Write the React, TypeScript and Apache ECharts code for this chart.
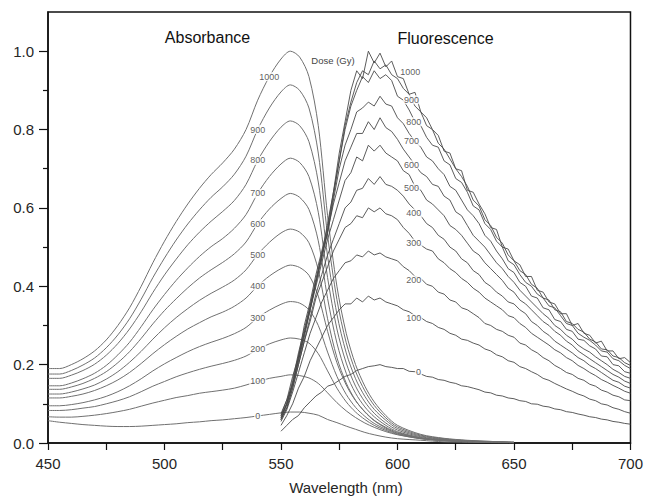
import React, { useEffect, useRef } from "react";
import * as echarts from "echarts";

const FONT = '"Liberation Sans", Arial, sans-serif';

const doses = [0, 100, 200, 300, 400, 500, 600, 700, 800, 900, 1000];

// ---- Absorbance (nm) ----
const absWl = [450, 455, 460, 465, 470, 475, 480, 485, 490, 495, 500, 505, 510, 515, 520, 525, 530, 535, 540, 545, 550, 554, 558, 562, 566, 570, 574, 578, 582, 586, 590, 595, 600, 610, 620, 630, 640, 650];
const abs0 = [0.057, 0.053, 0.05, 0.047, 0.045, 0.043, 0.042, 0.042, 0.043, 0.045, 0.047, 0.049, 0.052, 0.054, 0.057, 0.059, 0.062, 0.065, 0.069, 0.073, 0.077, 0.079, 0.079, 0.076, 0.071, 0.06, 0.052, 0.043, 0.035, 0.027, 0.021, 0.015, 0.011, 0.007, 0.003, 0.002, 0.001, 0];
const abs100 = [0.067, 0.066, 0.066, 0.068, 0.071, 0.075, 0.08, 0.086, 0.094, 0.102, 0.109, 0.116, 0.121, 0.127, 0.131, 0.135, 0.14, 0.148, 0.157, 0.165, 0.17, 0.174, 0.172, 0.166, 0.152, 0.128, 0.103, 0.082, 0.065, 0.051, 0.04, 0.029, 0.021, 0.011, 0.006, 0.003, 0.002, 0.001];
const abs200 = [0.083, 0.083, 0.085, 0.089, 0.093, 0.1, 0.108, 0.118, 0.131, 0.145, 0.157, 0.169, 0.179, 0.188, 0.196, 0.203, 0.211, 0.222, 0.239, 0.253, 0.263, 0.268, 0.265, 0.255, 0.228, 0.184, 0.14, 0.105, 0.079, 0.06, 0.045, 0.032, 0.022, 0.011, 0.006, 0.003, 0.002, 0.001];
const abs300 = [0.095, 0.095, 0.098, 0.103, 0.11, 0.119, 0.131, 0.146, 0.164, 0.184, 0.202, 0.218, 0.233, 0.246, 0.257, 0.267, 0.279, 0.295, 0.32, 0.339, 0.354, 0.361, 0.357, 0.34, 0.3, 0.232, 0.17, 0.124, 0.091, 0.068, 0.05, 0.035, 0.024, 0.012, 0.006, 0.004, 0.002, 0.001];
const abs400 = [0.115, 0.115, 0.119, 0.125, 0.134, 0.146, 0.161, 0.18, 0.203, 0.228, 0.251, 0.272, 0.291, 0.307, 0.322, 0.334, 0.349, 0.37, 0.401, 0.426, 0.445, 0.454, 0.448, 0.428, 0.375, 0.285, 0.205, 0.148, 0.108, 0.08, 0.058, 0.04, 0.027, 0.013, 0.007, 0.004, 0.002, 0.001];
const abs500 = [0.125, 0.125, 0.13, 0.138, 0.148, 0.163, 0.182, 0.206, 0.234, 0.265, 0.294, 0.32, 0.343, 0.364, 0.382, 0.398, 0.416, 0.442, 0.481, 0.512, 0.536, 0.546, 0.538, 0.511, 0.442, 0.317, 0.218, 0.153, 0.109, 0.079, 0.057, 0.038, 0.025, 0.012, 0.007, 0.004, 0.002, 0.001];
const abs600 = [0.137, 0.137, 0.143, 0.152, 0.165, 0.182, 0.205, 0.233, 0.267, 0.304, 0.338, 0.368, 0.396, 0.421, 0.442, 0.461, 0.483, 0.513, 0.56, 0.597, 0.624, 0.637, 0.627, 0.596, 0.516, 0.369, 0.255, 0.178, 0.127, 0.092, 0.067, 0.045, 0.029, 0.014, 0.008, 0.004, 0.003, 0.001];
const abs700 = [0.146, 0.146, 0.153, 0.164, 0.178, 0.198, 0.225, 0.257, 0.297, 0.34, 0.379, 0.415, 0.447, 0.476, 0.501, 0.522, 0.548, 0.583, 0.637, 0.68, 0.712, 0.727, 0.716, 0.68, 0.589, 0.422, 0.291, 0.204, 0.145, 0.105, 0.076, 0.051, 0.033, 0.016, 0.009, 0.005, 0.003, 0.001];
const abs800 = [0.165, 0.165, 0.173, 0.185, 0.201, 0.224, 0.254, 0.291, 0.335, 0.384, 0.429, 0.469, 0.506, 0.538, 0.566, 0.591, 0.619, 0.66, 0.721, 0.769, 0.806, 0.822, 0.81, 0.769, 0.666, 0.477, 0.329, 0.23, 0.164, 0.119, 0.086, 0.058, 0.037, 0.018, 0.01, 0.006, 0.003, 0.002];
const abs900 = [0.176, 0.176, 0.185, 0.199, 0.217, 0.243, 0.276, 0.317, 0.367, 0.422, 0.472, 0.518, 0.559, 0.595, 0.627, 0.654, 0.686, 0.732, 0.8, 0.855, 0.896, 0.914, 0.9, 0.855, 0.74, 0.53, 0.366, 0.256, 0.183, 0.133, 0.096, 0.064, 0.041, 0.02, 0.011, 0.006, 0.004, 0.002];
const abs1000 = [0.19, 0.19, 0.2, 0.215, 0.235, 0.263, 0.3, 0.345, 0.4, 0.46, 0.515, 0.565, 0.61, 0.65, 0.685, 0.715, 0.75, 0.8, 0.875, 0.935, 0.98, 1.0, 0.985, 0.935, 0.81, 0.58, 0.4, 0.28, 0.2, 0.145, 0.105, 0.07, 0.045, 0.022, 0.012, 0.007, 0.004, 0.002];
const absData = [abs0, abs100, abs200, abs300, abs400, abs500, abs600, abs700, abs800, abs900, abs1000];
const absLabelWl = [540, 540, 540, 540, 540, 540, 540, 540, 540, 540, 545];

// ---- Fluorescence (nm), sampled every 2.5 nm from 550 to 700 ----
const fluoWl = Array.from({ length: 61 }, (_, i) => 550 + 2.5 * i);
const fluo0 = [0.03, 0.045, 0.06, 0.07, 0.09, 0.105, 0.12, 0.13, 0.145, 0.15, 0.16, 0.17, 0.175, 0.185, 0.19, 0.195, 0.197, 0.2, 0.195, 0.193, 0.19, 0.19, 0.183, 0.182, 0.176, 0.17, 0.168, 0.162, 0.16, 0.155, 0.152, 0.146, 0.144, 0.14, 0.136, 0.13, 0.128, 0.122, 0.12, 0.115, 0.113, 0.108, 0.106, 0.1, 0.099, 0.094, 0.092, 0.087, 0.085, 0.08, 0.078, 0.074, 0.071, 0.067, 0.065, 0.061, 0.059, 0.055, 0.053, 0.05, 0.048];
const fluo100 = [0.045, 0.07, 0.1, 0.14, 0.17, 0.21, 0.24, 0.27, 0.3, 0.32, 0.34, 0.355, 0.355, 0.37, 0.36, 0.375, 0.365, 0.37, 0.36, 0.355, 0.35, 0.34, 0.335, 0.325, 0.32, 0.31, 0.305, 0.295, 0.29, 0.28, 0.275, 0.265, 0.262, 0.255, 0.25, 0.24, 0.235, 0.225, 0.22, 0.21, 0.206, 0.195, 0.19, 0.182, 0.175, 0.165, 0.16, 0.152, 0.145, 0.138, 0.132, 0.125, 0.12, 0.112, 0.108, 0.1, 0.097, 0.09, 0.086, 0.08, 0.076];
const fluo200 = [0.055, 0.085, 0.13, 0.18, 0.23, 0.28, 0.32, 0.36, 0.39, 0.42, 0.44, 0.46, 0.465, 0.48, 0.475, 0.49, 0.48, 0.485, 0.475, 0.47, 0.465, 0.45, 0.44, 0.425, 0.42, 0.405, 0.4, 0.385, 0.38, 0.365, 0.36, 0.345, 0.34, 0.33, 0.32, 0.305, 0.3, 0.29, 0.285, 0.275, 0.27, 0.255, 0.25, 0.238, 0.23, 0.218, 0.21, 0.198, 0.19, 0.18, 0.175, 0.165, 0.16, 0.15, 0.145, 0.135, 0.13, 0.122, 0.118, 0.11, 0.108];
const fluo300 = [0.06, 0.09, 0.14, 0.2, 0.26, 0.31, 0.37, 0.41, 0.45, 0.49, 0.52, 0.55, 0.56, 0.58, 0.575, 0.6, 0.59, 0.6, 0.585, 0.58, 0.57, 0.55, 0.535, 0.515, 0.505, 0.495, 0.49, 0.47, 0.46, 0.445, 0.435, 0.42, 0.41, 0.395, 0.385, 0.37, 0.36, 0.35, 0.34, 0.325, 0.32, 0.305, 0.295, 0.28, 0.27, 0.26, 0.25, 0.238, 0.23, 0.218, 0.21, 0.198, 0.19, 0.18, 0.172, 0.162, 0.155, 0.147, 0.14, 0.132, 0.127];
const fluo400 = [0.06, 0.09, 0.14, 0.2, 0.26, 0.32, 0.38, 0.43, 0.48, 0.52, 0.56, 0.6, 0.615, 0.645, 0.65, 0.675, 0.66, 0.68, 0.66, 0.655, 0.645, 0.63, 0.61, 0.595, 0.58, 0.56, 0.55, 0.53, 0.52, 0.5, 0.49, 0.47, 0.46, 0.44, 0.43, 0.41, 0.4, 0.385, 0.375, 0.36, 0.355, 0.34, 0.33, 0.31, 0.3, 0.285, 0.275, 0.26, 0.25, 0.24, 0.23, 0.218, 0.21, 0.198, 0.19, 0.18, 0.17, 0.16, 0.155, 0.145, 0.14];
const fluo500 = [0.065, 0.1, 0.15, 0.21, 0.27, 0.34, 0.4, 0.46, 0.52, 0.57, 0.62, 0.67, 0.69, 0.73, 0.72, 0.76, 0.745, 0.76, 0.74, 0.73, 0.72, 0.695, 0.685, 0.655, 0.645, 0.62, 0.61, 0.595, 0.58, 0.555, 0.545, 0.53, 0.51, 0.49, 0.48, 0.46, 0.445, 0.43, 0.415, 0.395, 0.385, 0.365, 0.355, 0.34, 0.325, 0.31, 0.3, 0.285, 0.275, 0.26, 0.25, 0.235, 0.225, 0.215, 0.205, 0.195, 0.185, 0.175, 0.168, 0.158, 0.152];
const fluo600 = [0.065, 0.1, 0.15, 0.22, 0.28, 0.34, 0.41, 0.48, 0.54, 0.61, 0.665, 0.72, 0.755, 0.79, 0.79, 0.82, 0.8, 0.83, 0.805, 0.795, 0.775, 0.75, 0.73, 0.71, 0.69, 0.68, 0.66, 0.655, 0.63, 0.62, 0.59, 0.58, 0.555, 0.53, 0.515, 0.5, 0.48, 0.46, 0.445, 0.425, 0.41, 0.39, 0.375, 0.36, 0.345, 0.33, 0.318, 0.3, 0.29, 0.275, 0.265, 0.25, 0.24, 0.232, 0.22, 0.21, 0.2, 0.188, 0.18, 0.17, 0.165];
const fluo700 = [0.07, 0.1, 0.15, 0.21, 0.28, 0.35, 0.41, 0.48, 0.535, 0.62, 0.7, 0.76, 0.8, 0.845, 0.855, 0.87, 0.86, 0.885, 0.865, 0.86, 0.83, 0.815, 0.79, 0.77, 0.755, 0.73, 0.72, 0.7, 0.685, 0.655, 0.645, 0.62, 0.595, 0.58, 0.56, 0.53, 0.515, 0.49, 0.47, 0.445, 0.435, 0.41, 0.4, 0.375, 0.37, 0.345, 0.34, 0.315, 0.31, 0.29, 0.285, 0.265, 0.262, 0.248, 0.24, 0.222, 0.22, 0.2, 0.197, 0.182, 0.178];
const fluo800 = [0.075, 0.11, 0.15, 0.22, 0.28, 0.34, 0.41, 0.47, 0.54, 0.63, 0.72, 0.8, 0.86, 0.9, 0.935, 0.92, 0.95, 0.93, 0.94, 0.925, 0.885, 0.875, 0.85, 0.82, 0.81, 0.78, 0.76, 0.755, 0.72, 0.71, 0.675, 0.665, 0.64, 0.605, 0.595, 0.56, 0.545, 0.515, 0.5, 0.465, 0.455, 0.43, 0.41, 0.4, 0.38, 0.37, 0.35, 0.345, 0.325, 0.305, 0.3, 0.28, 0.27, 0.262, 0.25, 0.235, 0.232, 0.215, 0.21, 0.198, 0.19];
const fluo900 = [0.07, 0.11, 0.17, 0.22, 0.3, 0.36, 0.43, 0.49, 0.55, 0.64, 0.72, 0.81, 0.87, 0.92, 0.95, 0.94, 0.975, 0.955, 0.965, 0.94, 0.93, 0.905, 0.89, 0.86, 0.845, 0.81, 0.8, 0.765, 0.75, 0.725, 0.7, 0.68, 0.655, 0.62, 0.605, 0.57, 0.555, 0.525, 0.51, 0.48, 0.465, 0.44, 0.43, 0.405, 0.395, 0.37, 0.365, 0.34, 0.335, 0.31, 0.305, 0.29, 0.283, 0.265, 0.258, 0.24, 0.238, 0.222, 0.218, 0.205, 0.198];
const fluo1000 = [0.06, 0.1, 0.16, 0.23, 0.29, 0.35, 0.42, 0.48, 0.56, 0.64, 0.74, 0.82, 0.9, 0.95, 0.93, 1.0, 0.97, 0.995, 0.96, 0.975, 0.935, 0.93, 0.89, 0.895, 0.845, 0.83, 0.8, 0.785, 0.745, 0.74, 0.7, 0.695, 0.645, 0.64, 0.61, 0.585, 0.55, 0.545, 0.5, 0.495, 0.465, 0.455, 0.425, 0.425, 0.39, 0.385, 0.36, 0.355, 0.33, 0.33, 0.3, 0.305, 0.28, 0.275, 0.255, 0.26, 0.235, 0.235, 0.215, 0.218, 0.205];
const fluoData = [fluo0, fluo100, fluo200, fluo300, fluo400, fluo500, fluo600, fluo700, fluo800, fluo900, fluo1000];
const fluoLabelWl = [609, 607, 607, 607, 607, 606, 606, 606, 607, 606, 605.5];
const fluoLabelY = [0.182, 0.318, 0.416, 0.51, 0.587, 0.651, 0.71, 0.77, 0.82, 0.876, 0.948];

// ---- Axis ticks ----
const xTicks = [450, 475, 500, 525, 550, 575, 600, 625, 650, 675, 700];
const xLabels = [450, 500, 550, 600, 650, 700];
const yLabels = [0, 0.2, 0.4, 0.6, 0.8, 1.0];
const yMinor = [0.1, 0.3, 0.5, 0.7, 0.9];

export default function App() {
  const ref = useRef<HTMLDivElement>(null);

  useEffect(() => {
    if (!ref.current) return;
    const chart = echarts.init(ref.current, null, { renderer: "svg" });

    const lineBase = { type: "line", symbol: "none", showSymbol: false, silent: true };
    const absSeries = absData.map((arr, i) => ({
      ...lineBase,
      name: `A${doses[i]}`,
      smooth: 0.3,
      data: absWl.map((w, j) => [w, arr[j]]),
      lineStyle: { color: "#707070", width: 1 },
      z: 2,
    }));
    const fluoSeries = fluoData.map((arr, i) => ({
      ...lineBase,
      name: `F${doses[i]}`,
      data: fluoWl.map((w, j) => [w, arr[j]]),
      lineStyle: { color: "#4a4a4a", width: 0.9 },
      z: 3,
    }));

    const labelStyle = {
      show: true,
      position: "inside",
      formatter: (p: any) => p.data[2],
      fontSize: 9,
      fontFamily: FONT,
      color: "#333",
      backgroundColor: "#fff",
      padding: [0, 1, 0, 1],
    };
    const absLabelPts = doses.map((d, i) => {
      const j = absWl.indexOf(absLabelWl[i]);
      return [absWl[j], absData[i][j], String(d)];
    });
    const fluoLabelPts = doses.map((d, i) => [fluoLabelWl[i], fluoLabelY[i], String(d)]);
    const labelSeries = (pts: any[]) => ({
      type: "scatter",
      data: pts,
      symbolSize: 1,
      itemStyle: { color: "rgba(0,0,0,0)" },
      silent: true,
      z: 10,
      label: labelStyle,
    });

    const axisText = { fontSize: 15, fontFamily: FONT, color: "#262626" };

    chart.setOption({
      animation: false,
      backgroundColor: "#fff",
      grid: { left: 48, right: 13, top: 12, bottom: 54, show: true, borderColor: "#111", borderWidth: 1.5 },
      xAxis: {
        type: "value",
        min: 450,
        max: 700,
        interval: 25,
        axisLine: { lineStyle: { color: "#111", width: 1.5 } },
        axisTick: { customValues: xTicks, length: 7, lineStyle: { color: "#111", width: 1.2 } },
        axisLabel: { ...axisText, customValues: xLabels, margin: 13 },
        splitLine: { show: false },
      },
      yAxis: [
        {
          type: "value",
          min: 0,
          max: 1.1,
          interval: 0.1,
          position: "left",
          axisLine: { show: true, lineStyle: { color: "#111", width: 1.5 } },
          axisTick: { customValues: yLabels, length: 9, lineStyle: { color: "#111", width: 1.2 } },
          axisLabel: { ...axisText, customValues: yLabels, margin: 14, formatter: (v: number) => v.toFixed(1) },
          splitLine: { show: false },
        },
        {
          type: "value",
          min: 0,
          max: 1.1,
          interval: 0.1,
          position: "left",
          axisLine: { show: false },
          axisTick: { customValues: yMinor, length: 5, lineStyle: { color: "#111", width: 1.2 } },
          axisLabel: { show: false },
          splitLine: { show: false },
        },
      ],
      graphic: [
        { type: "text", x: 207.5, y: 37, style: { text: "Absorbance", fontSize: 16, fontFamily: FONT, fill: "#111", align: "center", verticalAlign: "middle" } },
        { type: "text", x: 445.5, y: 38, style: { text: "Fluorescence", fontSize: 16, fontFamily: FONT, fill: "#111", align: "center", verticalAlign: "middle" } },
        { type: "text", x: 333, y: 60.5, style: { text: "Dose (Gy)", fontSize: 9.5, fontFamily: FONT, fill: "#444", align: "center", verticalAlign: "middle" } },
        { type: "text", x: 346, y: 487, style: { text: "Wavelength (nm)", fontSize: 15, fontFamily: FONT, fill: "#262626", align: "center", verticalAlign: "middle" } },
      ],
      series: [...absSeries, ...fluoSeries, labelSeries(absLabelPts), labelSeries(fluoLabelPts)],
    });

    return () => chart.dispose();
  }, []);

  return <div ref={ref} style={{ position: "absolute", left: 0, top: 0, width: 646, height: 497 }} />;
}
